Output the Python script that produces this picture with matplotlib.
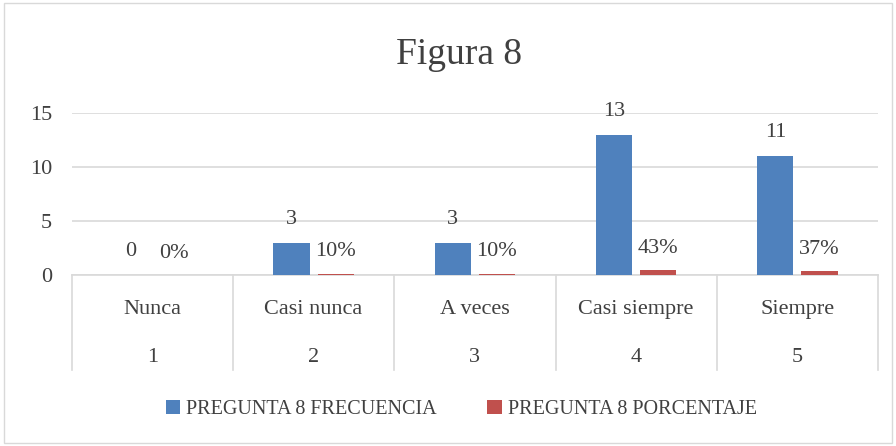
import numpy as np
import matplotlib.pyplot as plt
import matplotlib.transforms as mtransforms
from matplotlib.patches import Rectangle

categories = ['Nunca', 'Casi nunca', 'A veces', 'Casi siempre', 'Siempre']
codes = ['1', '2', '3', '4', '5']
frecuencia = [0, 3, 3, 13, 11]
porcentaje = [0.0, 0.10, 0.10, 0.43, 0.37]

blue = '#4F81BD'
red = '#C0504D'
text_col = '#404040'
grid_col = '#D9D9D9'

plt.rcParams['font.family'] = ['Liberation Serif', 'DejaVu Serif']

fig = plt.figure(figsize=(8.96, 4.46), dpi=100)
fig.patches.append(Rectangle((0.004, 0.007), 0.992, 0.986, transform=fig.transFigure,
                             fill=False, edgecolor=grid_col, linewidth=1))

ax = fig.add_axes([0.080, 0.3834, 0.900, 0.3632])
x = np.arange(1, len(categories) + 1)
w = 0.224
off = 0.137

ax.bar(x - off, frecuencia, w, color=blue, label='PREGUNTA 8 FRECUENCIA', zorder=3)
ax.bar(x + off, porcentaje, w, color=red, label='PREGUNTA 8 PORCENTAJE', zorder=3)

# data labels
for xi, v in zip(x, frecuencia):
    ax.annotate(str(v), (xi - off, v), xytext=(0, 10), textcoords='offset points',
                ha='center', va='bottom', fontsize=16, color=text_col)
for xi, v in zip(x, porcentaje):
    ax.annotate(f'{v:.0%}', (xi + off, v), xytext=(0, 9), textcoords='offset points',
                ha='center', va='bottom', fontsize=16, color=text_col)

ax.set_xlim(0.5, len(categories) + 0.5)
ax.set_ylim(0, 15)
ax.set_yticks([0, 5, 10, 15])
ax.tick_params(axis='y', length=0, pad=14, labelsize=16, labelcolor=text_col)
ax.set_xticks([])
ax.yaxis.grid(True, color=grid_col, linewidth=1.2, zorder=0)
for s in ['top', 'right', 'left']:
    ax.spines[s].set_visible(False)
ax.spines['bottom'].set_color(grid_col)
ax.spines['bottom'].set_linewidth(1.2)

# two-level category axis
trans = mtransforms.blended_transform_factory(ax.transData, ax.transAxes)
for b in np.arange(0.5, len(categories) + 1, 1.0):
    ax.plot([b, b], [0, -0.586], transform=trans, color=grid_col, linewidth=1.2, clip_on=False)
for xi, cat, code in zip(x, categories, codes):
    ax.text(xi, -0.21, cat, transform=trans, ha='center', va='center',
            fontsize=16, color=text_col)
    ax.text(xi, -0.51, code, transform=trans, ha='center', va='center',
            fontsize=16, color=text_col)

fig.text(0.512, 0.877, 'Figura 8', ha='center', va='center', fontsize=27, color=text_col)

fig.legend(loc='center', bbox_to_anchor=(0.515, 0.081), ncol=2, frameon=False,
           handlelength=0.7, handleheight=0.7, handletextpad=0.3, columnspacing=2.5,
           fontsize=14.5, labelcolor=text_col)

fig.savefig('out.png', dpi=100)
